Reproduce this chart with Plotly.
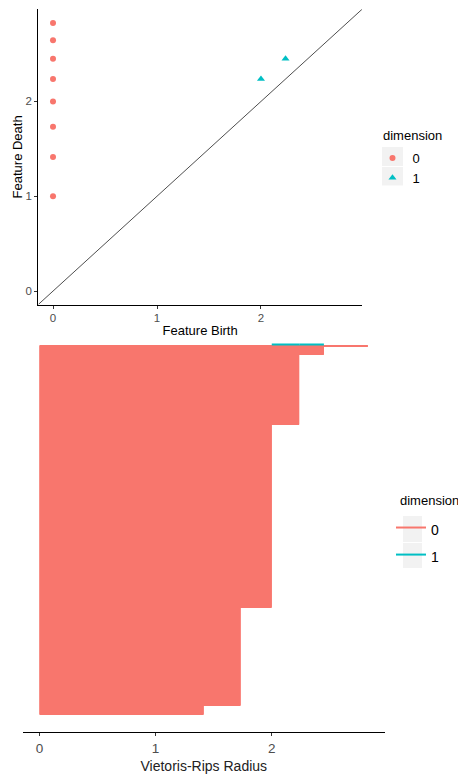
import plotly.graph_objects as go

# ---------------- data ----------------
# persistence diagram (unique features)
dim0_birth = [0, 0, 0, 0, 0, 0, 0, 0]
dim0_death = [1.0, 1.414, 1.732, 2.0, 2.236, 2.449, 2.646, 2.828]
dim1_birth = [2.0, 2.236]
dim1_death = [2.236, 2.449]

# barcode: dimension-0 bars (all born at 0), death value and number of bars
bar0_death = [1.414, 1.732, 2.0, 2.236, 2.449, 2.828]
bar0_count = [9, 98, 183, 70, 8, 1]
# barcode: dimension-1 bars (drawn on the top row)
bar1_birth = [2.0, 2.236]
bar1_death = [2.236, 2.449]

tick_vals = [0, 1, 2]
tick_text = ["0", "1", "2"]

RED = "#F8766D"
TEAL = "#00BFC4"
W, H = 458, 778


def px_x(p):
    return p / W


def px_y(p):
    return 1 - p / H


# build barcode segments
bx0, by0 = [], []
row = 0
for d, c in zip(bar0_death, bar0_count):
    for _ in range(c):
        bx0 += [0, d, None]
        by0 += [row, row, None]
        row += 1
bx1, by1 = [], []
for b, d in zip(bar1_birth, bar1_death):
    bx1 += [b, d, None]
    by1 += [row + 0.5, row + 0.5, None]
n_rows = row + 2

xr = [-0.1415, 2.9715]

fig = go.Figure()

# ---- persistence diagram ----
fig.add_trace(go.Scatter(x=xr, y=xr, mode="lines", line=dict(color="black", width=0.7),
                         showlegend=False, hoverinfo="skip", xaxis="x", yaxis="y"))
fig.add_trace(go.Scatter(x=dim0_birth, y=dim0_death, mode="markers", name="0",
                         marker=dict(color=RED, size=6, symbol="circle"),
                         xaxis="x", yaxis="y", legend="legend"))
fig.add_trace(go.Scatter(x=dim1_birth, y=dim1_death, mode="markers", name="1",
                         marker=dict(color=TEAL, size=7, symbol="triangle-up"),
                         xaxis="x", yaxis="y", legend="legend"))

# ---- barcode ----
fig.add_trace(go.Scatter(x=bx0, y=by0, mode="lines",
                         name='<span style="font-size:14px">0</span>',
                         line=dict(color=RED, width=2), xaxis="x2", yaxis="y2",
                         legend="legend2", connectgaps=False))
fig.add_trace(go.Scatter(x=bx1, y=by1, mode="lines",
                         name='<span style="font-size:14px">1</span>',
                         line=dict(color=TEAL, width=2), xaxis="x2", yaxis="y2",
                         legend="legend2", connectgaps=False))

FONT = "Liberation Sans, Arial, sans-serif"

axis_common = dict(showgrid=False, zeroline=False, showline=True, linecolor="black",
                   linewidth=1, ticks="outside", ticklen=3, tickcolor="#333333",
                   tickwidth=1, tickvals=tick_vals, ticktext=tick_text)

fig.update_layout(
    width=W, height=H, autosize=False,
    margin=dict(l=0, r=0, t=0, b=0),
    paper_bgcolor="white", plot_bgcolor="white",
    font=dict(family=FONT, color="black"),
    xaxis=dict(domain=[px_x(38.3), px_x(362)], range=xr, anchor="y",
               tickfont=dict(size=11.5, color="#4D4D4D"),
               title=dict(text="Feature Birth", font=dict(size=13, color="black"), standoff=2),
               **axis_common),
    yaxis=dict(domain=[px_y(304.5), px_y(9.3)], range=xr, anchor="x",
               tickfont=dict(size=11.5, color="#4D4D4D"),
               title=dict(text="Feature Death", font=dict(size=13, color="black"), standoff=0),
               **axis_common),
    xaxis2=dict(domain=[px_x(23), px_x(384.6)], range=xr, anchor="y2",
                tickfont=dict(size=13.5, color="#4D4D4D"),
                title=dict(text="Vietoris-Rips Radius", font=dict(size=14, color="#222222"), standoff=6),
                **axis_common),
    yaxis2=dict(domain=[px_y(732.3), px_y(326)], range=[-18.3, n_rows - 1 + 18], anchor="x2",
                visible=False, showgrid=False, zeroline=False),
    legend=dict(x=px_x(372.5), y=px_y(143), xanchor="left", yanchor="top",
                bgcolor="rgba(0,0,0,0)", font=dict(size=13, color="black", family=FONT),
                tracegroupgap=0),
    legend2=dict(x=px_x(391), y=px_y(509), xanchor="left", yanchor="top",
                 bgcolor="rgba(0,0,0,0)", font=dict(size=18.5, color="black", family=FONT),
                 tracegroupgap=0),
    annotations=[
        dict(text="dimension", x=px_x(381), y=px_y(136), xref="paper", yref="paper",
             xanchor="left", yanchor="middle", showarrow=False,
             font=dict(size=13, color="black", family=FONT)),
        dict(text="dimension", x=px_x(398), y=px_y(500), xref="paper", yref="paper",
             xanchor="left", yanchor="middle", showarrow=False,
             font=dict(size=13, color="black", family=FONT)),
    ],
    shapes=[
        dict(type="rect", xref="paper", yref="paper", layer="below", line=dict(width=0),
             fillcolor="#F2F2F2", x0=px_x(382), x1=px_x(403), y0=px_y(166), y1=px_y(147)),
        dict(type="rect", xref="paper", yref="paper", layer="below", line=dict(width=0),
             fillcolor="#F2F2F2", x0=px_x(382), x1=px_x(403), y0=px_y(185.5), y1=px_y(167)),
        dict(type="rect", xref="paper", yref="paper", layer="below", line=dict(width=0),
             fillcolor="#F2F2F2", x0=px_x(403), x1=px_x(422), y0=px_y(542), y1=px_y(516)),
        dict(type="rect", xref="paper", yref="paper", layer="below", line=dict(width=0),
             fillcolor="#F2F2F2", x0=px_x(403), x1=px_x(422), y0=px_y(568), y1=px_y(543)),
    ],
)

fig.write_html("out.html", config={"displayModeBar": False},
               post_script="document.body.style.margin='0';")
